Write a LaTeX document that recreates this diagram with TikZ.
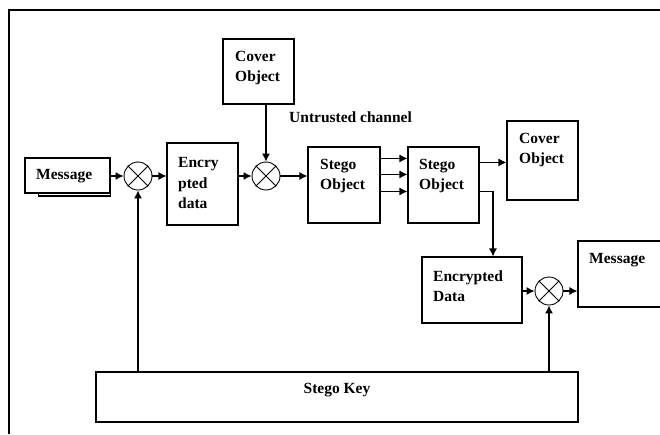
\documentclass[tikz,border=0pt]{standalone}
\usepackage{fontspec}
\setmainfont{Liberation Serif}
\usepackage{tikz}
\usetikzlibrary{arrows.meta}
\usetikzlibrary{calc}

\begin{document}
\begin{tikzpicture}[x=1pt, y=-1pt,
	box/.style={rectangle, draw, line width=1.1pt, fill=white, inner sep=0pt},
	txt/.style={anchor=west, align=left, inner sep=0pt, font=\bfseries\fontsize{15.5}{20.5}\selectfont},
	xor/.style={circle, draw, line width=0.9pt, minimum size=28pt, inner sep=0pt},
	arr/.style={line width=1.1pt, -{Latex[length=8pt, width=8pt]}}]

	\useasboundingbox (0, 0) rectangle (660, 434);

	\draw [line width=2.6pt] (9, 434) -- (9, 10) -- (660, 10);

	% boxes
	\node (msgs) [box, minimum width=72pt, minimum height=30pt] at (74.5, 181) {};
	\node (msg) [box, minimum width=85pt, minimum height=35pt] at (67.5, 175.5) {};
	\node (enc) [box, minimum width=71pt, minimum height=82pt] at (202.5, 184) {};
	\node (cov) [box, minimum width=71pt, minimum height=65pt] at (258.5, 71.5) {};
	\node (so1) [box, minimum width=72pt, minimum height=76pt] at (344, 185) {};
	\node (so2) [box, minimum width=71pt, minimum height=76pt] at (443.5, 185) {};
	\node (cov2) [box, minimum width=71pt, minimum height=79pt] at (542.5, 160.5) {};
	\node (dat) [box, minimum width=100pt, minimum height=66pt] at (472, 290) {};
	\node (msg2) [box, minimum width=92pt, minimum height=66pt] at (624, 274) {};
	\node (key) [box, minimum width=482pt, minimum height=50pt] at (337, 397) {};

	\node [txt] at (36, 176) {Message};
	\node [txt] at (178, 183) {Encry\\pted\\data};
	\node [txt] at (235, 68) {Cover\\Object};
	\node [txt] at (289, 117) {Untrusted channel};
	\node [txt] at (320, 176) {Stego\\Object};
	\node [txt] at (419, 176) {Stego\\Object};
	\node [txt] at (519, 150) {Cover\\Object};
	\node [txt] at (433, 286) {Encrypted\\Data};
	\node [txt] at (589, 260) {Message};
	\node [txt, anchor=center] at (337, 390) {Stego Key};

	% mixers
	\foreach \n/\p in {c1/{(138, 176)}, c2/{(266, 176)}, c3/{(549, 291)}} {
		\node (\n) [xor] at \p {};
		\draw [line width=0.9pt] (\n.45) -- (\n.225) (\n.135) -- (\n.315);
	}

	\draw [arr] (msg.east |- c1) -- (c1.west);
	\draw [arr] (c1.east) -- (c1.east -| enc.west);
	\draw [arr] (enc.east |- c2) -- (c2.west);
	\draw [arr] (cov.south -| c2.north) -- (c2.north);
	\draw [arr] (c2.east) -- (c2.east -| so1.west);

	\foreach \dy in {12, 28, 45}
		\draw [arr] ([yshift=-\dy pt]so1.north east) -- ([yshift=-\dy pt]so1.north east -| so2.west);

	\draw [arr] ([yshift=-16pt]so2.north east) -- ([yshift=-16pt]so2.north east -| cov2.west);
	\draw [arr] ([yshift=-45pt]so2.north east) -| ([xshift=21pt]dat.north);

	\draw [arr] (dat.east |- c3) -- (c3.west);
	\draw [arr] (c3.east) -- (c3.east -| msg2.west);

	\draw [arr] (key.north -| c1) -- (c1.south);
	\draw [arr] (key.north -| c3) -- (c3.south);

\end{tikzpicture}
\end{document}
